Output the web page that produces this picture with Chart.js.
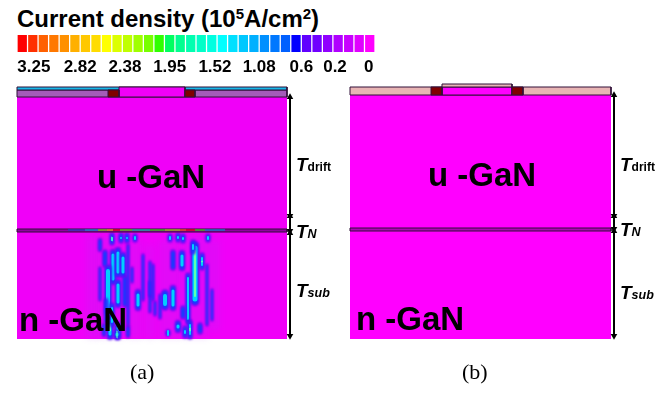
<!DOCTYPE html>
<html>
<head>
<meta charset="utf-8">
<title>Current density</title>
<script src="https://cdn.jsdelivr.net/npm/chart.js@4"></script>
<style>
  html, body { margin: 0; padding: 0; background: #fff; }
  #page { position: relative; width: 664px; height: 393px; overflow: hidden; font-family: "Liberation Sans", Arial, sans-serif; }
  #page canvas { position: absolute; }
  #boxDiagrama { position: absolute; left: 0; top: 0; width: 664px; height: 393px; filter: blur(0.35px); }
  #boxEscala { position: absolute; left: 0; top: 33px; width: 392px; height: 51px; }
  .txt { position: absolute; line-height: 1; white-space: nowrap; font-weight: bold; color: #000; }
  .titulo { font-size: 24px; left: 17px; top: 7px; }
  .titulo sup { font-size: 15px; line-height: 0; vertical-align: 8px; }
  .gan { font-size: 33px; }
  .t { font-size: 19px; font-style: italic; }
  .t span { font-size: 12px; font-style: normal; }
  .t i { font-size: 12.5px; }
  .cap { position: absolute; font-family: "Liberation Serif", serif; font-size: 22px; line-height: 1; }
</style>
</head>
<body>
<div id="page">
  <div class="txt titulo">Current density (10<sup>5</sup>A/cm<sup>2</sup>)</div>
  <div id="boxDiagrama"><canvas id="graficoDiagrama" width="664" height="393"></canvas></div>
  <div id="boxEscala"><canvas id="graficoEscala" width="392" height="51"></canvas></div>

  <div class="txt gan" style="left:97px;top:160px">u -GaN</div>
  <div class="txt gan" style="left:19px;top:303px">n -GaN</div>
  <div class="txt gan" style="left:428px;top:158px">u -GaN</div>
  <div class="txt gan" style="left:356px;top:302px">n -GaN</div>

  <div class="txt t" style="left:296px;top:155px">T<span>drift</span></div>
  <div class="txt t" style="left:296px;top:222px">T<i>N</i></div>
  <div class="txt t" style="left:296px;top:281px">T<i>sub</i></div>
  <div class="txt t" style="left:620px;top:155px">T<span>drift</span></div>
  <div class="txt t" style="left:620px;top:220px">T<i>N</i></div>
  <div class="txt t" style="left:620px;top:283px">T<i>sub</i></div>

  <div class="cap" style="left:130px;top:361px">(a)</div>
  <div class="cap" style="left:462px;top:361px">(b)</div>
</div>

<script>
// Escala de cores
const coresEscala = ['#ff0000','#ff3000','#ff6000','#ff7800','#ff9000','#ffb000','#ffc800','#ffdc00','#ffff00','#dcff00','#c0ff00','#a0ff00','#78ff00','#30ff00','#00ff60','#00ff90','#00ffb0',
                     '#00ffc8','#00ffe0','#00ffff','#00e0ff','#00c8ff','#00b0ff','#0090ff','#0078ff','#0060ff','#0000ff','#6000ff','#7000ff','#9000ff','#b000ff','#c800ff','#e000ff','#ff00ff'];
const rotulosEscala = ['3.25','2.82','2.38','1.95','1.52','1.08','0.6','0.2','0'];
const posicoesEscala = [1.6, 6, 10.25, 14.5, 18.8, 23, 27, 30.2, 33.4];

// Camadas do dispositivo [x0, x1, y0, y1]
const camadasA = {
  corpo:    [17, 287, 97, 339],
  passiva:  [17, 287, 90, 97],
  topo:     [17, 287, 87, 90],
  centro:   [119, 185, 87, 97],
  contatoE: [108, 119, 90, 97],
  contatoD: [185, 195, 90, 97],
  camadaN:  [17, 287, 229, 232]
};
const camadasB = {
  corpo:    [350, 611, 95, 339],
  passiva:  [350, 611, 87, 95],
  centro:   [442, 512, 87, 95],
  capa:     [442, 512, 84, 87],
  contatoE: [431, 442, 87, 95],
  contatoD: [512, 523, 87, 95],
  camadaN:  [350, 611, 228, 231]
};

// Filamentos de corrente abaixo da camada N (a)
const filX      = [113, 118, 123, 108, 105, 118, 125, 138, 132, 112, 110, 150, 195, 202, 188, 182, 173, 173, 165, 183, 178, 190, 200, 193, 155, 100, 121, 104, 128, 168, 208, 127, 135, 178, 170, 183, 112, 118, 106, 143, 153, 160, 100, 212, 117, 185, 150, 128, 207];
const filTopo   = [252, 250, 255, 268, 252, 282, 278, 292, 268, 235, 318, 282, 245, 255, 275, 253, 252, 288, 293, 308, 323, 322, 325, 242, 302, 240, 235, 325, 327, 332, 236, 235, 236, 235, 236, 236, 305, 325, 300, 255, 265, 295, 268, 290, 332, 328, 262, 245, 265];
const filBase   = [282, 275, 275, 312, 265, 305, 305, 308, 282, 243, 338, 312, 302, 268, 322, 268, 268, 308, 307, 317, 330, 338, 332, 252, 315, 250, 241, 335, 336, 334, 240, 241, 240, 240, 240, 241, 325, 338, 322, 300, 300, 318, 300, 320, 338, 336, 296, 325, 325];
const filLargura= [4, 4, 4, 5, 3, 4, 3, 4, 1, 3, 4, 1, 6, 3, 3, 4, 3, 4, 5, 3, 4, 3, 3, 3, 1, 2, 3, 2, 2, 3, 3, 3, 3, 3, 3, 3, 3, 4, 2, 1, 1, 1, 1, 1, 4, 3, 1, 1, 1];
const filNivel  = [2, 2, 2, 2, 1, 2, 1, 2, 1, 3, 3, 1, 3, 3, 2, 2, 1, 2, 2, 1, 2, 3, 1, 2, 1, 1, 2, 1, 1, 2, 2, 2, 2, 2, 2, 2, 2, 3, 1, 1, 1, 1, 1, 1, 3, 2, 1, 1, 1];

// Pontos quentes sobre a camada N (a)
const quenteX0  = [68, 85, 98, 107, 113, 120, 132, 150, 165, 180, 186, 195, 205];
const quenteX1  = [85, 98, 107, 113, 120, 132, 150, 165, 180, 186, 195, 205, 225];
const quenteCor = ['#2040c0', '#00a0d0', '#80e000', '#ffb000', '#ff0000', '#60e000', '#00d0a0', '#30e000', '#a0e000', '#ff6000', '#ff0000', '#30e000', '#0090d0'];

// Setas de cota: x, y0, y1
const setas = [
  [290, 97, 216], [290, 216, 231], [290, 233, 336],
  [614, 95, 216], [614, 216, 229], [614, 231, 336]
];

const corCamada = { corpo: '#f000f8', passiva: '#a45cb8', topo: '#18b8e8', centro: '#f000f8', capa: '#e8b4b4', contatoE: '#800000', contatoD: '#800000', camadaN: '#9000a0' };
const corCamadaB = { corpo: '#ff00ff', passiva: '#e8b4b4', centro: '#ff00ff', capa: '#e8b4b4', contatoE: '#800000', contatoD: '#800000', camadaN: '#b000b8' };

function retangulo(c, cor, borda) {
  return {
    data: [{x: c[0], y: c[2]}, {x: c[1], y: c[2]}, {x: c[1], y: c[3]}, {x: c[0], y: c[3]}, {x: c[0], y: c[2]}],
    borderColor: borda || cor,
    backgroundColor: cor,
    borderWidth: borda ? 1 : 0,
    fill: 'shape',
    pointRadius: 0,
    tension: 0
  };
}

function traco(x0, y0, x1, y1, cor, largura, desfoque, ponta) {
  return {
    data: [{x: x0, y: y0}, {x: x1, y: y1}],
    borderColor: cor,
    borderWidth: largura,
    borderCapStyle: ponta || 'round',
    fill: false,
    pointRadius: 0,
    tension: 0,
    desfoque: desfoque || 0
  };
}

const datasets = [];

// painel (a)
['corpo', 'passiva', 'topo', 'centro', 'contatoE', 'contatoD'].forEach(nome => {
  datasets.push(retangulo(camadasA[nome], corCamada[nome], nome === 'corpo' ? null : '#301038'));
});

// névoa violeta em volta dos filamentos
[[93, 236, 338, 14], [112, 236, 338, 26], [135, 240, 338, 14], [150, 245, 338, 10], [170, 240, 338, 22], [195, 236, 338, 26], [214, 240, 330, 12]].forEach(n => {
  datasets.push(traco(n[0], n[1], n[0], n[2], 'rgba(170, 50, 245, 0.2)', n[3], 3, 'butt'));
});

filX.forEach((x, i) => {
  const a = filTopo[i], b = filBase[i], w = filLargura[i], n = filNivel[i];
  const fim = Math.min(b, 337);
  datasets.push(traco(x, a, x, fim, 'rgba(80, 10, 250, 0.75)', w + 2.5, 1.2));
  datasets.push(traco(x, a + 1, x, fim - 1, '#1040ff', w + 0.5, 0.8));
  if (n >= 2) datasets.push(traco(x, a + 3, x, fim - 3, '#00d0ff', Math.max(w - 1, 1), 0.7));
  if (n >= 3) datasets.push(traco(x, a + 6, x, fim - 6, '#60ffb0', Math.max(w - 4, 1), 0.6));
});

datasets.push(retangulo(camadasA.camadaN, corCamada.camadaN, '#301038'));
quenteX0.forEach((x0, i) => {
  datasets.push(traco(x0, 230, quenteX1[i], 230, quenteCor[i], 1.2, 0, 'butt'));
});

// painel (b)
['corpo', 'passiva', 'centro', 'capa', 'contatoE', 'contatoD', 'camadaN'].forEach(nome => {
  datasets.push(retangulo(camadasB[nome], corCamadaB[nome], nome === 'corpo' ? null : '#301038'));
});

// setas
setas.forEach(s => {
  datasets.push({
    data: [{x: s[0], y: s[1]}, {x: s[0], y: s[2]}],
    borderColor: '#000',
    backgroundColor: '#000',
    borderWidth: 2,
    fill: false,
    pointStyle: 'triangle',
    pointRadius: 3.8,
    pointBorderWidth: 0,
    pointRotation: [0, 180],
    tension: 0
  });
});

// o Chart.js desenha o primeiro dataset por cima
datasets.reverse();

// desfoca os filamentos, como no mapa de corrente original
const pluginDesfoque = {
  id: 'desfoque',
  beforeDatasetDraw(chart, args) {
    const d = chart.data.datasets[args.index].desfoque;
    if (d) chart.ctx.filter = `blur(${d}px)`;
  },
  afterDatasetDraw(chart) {
    chart.ctx.filter = 'none';
  }
};

new Chart(document.getElementById('graficoDiagrama'), {
  type: 'line',
  data: { datasets: datasets },
  plugins: [pluginDesfoque],
  options: {
    responsive: false,
    animation: false,
    parsing: false,
    normalized: true,
    layout: { padding: 0, autoPadding: false },
    plugins: { legend: { display: false }, tooltip: { enabled: false } },
    scales: {
      x: { type: 'linear', min: 0, max: 664, display: false },
      y: { type: 'linear', min: 0, max: 393, reverse: true, display: false }
    }
  }
});

new Chart(document.getElementById('graficoEscala'), {
  type: 'bar',
  data: {
    datasets: [{
      data: coresEscala.map((c, i) => ({x: i + 0.5, y: 1})),
      backgroundColor: coresEscala,
      barThickness: 8.6
    }]
  },
  options: {
    responsive: false,
    animation: false,
    layout: { padding: { left: 17, right: 17, top: 2, bottom: 0 } },
    plugins: { legend: { display: false }, tooltip: { enabled: false } },
    scales: {
      x: {
        type: 'linear',
        min: 0,
        max: 34,
        offset: false,
        grid: { display: false, drawTicks: false },
        border: { display: false },
        afterBuildTicks: axis => { axis.ticks = posicoesEscala.map(v => ({value: v})); },
        afterFit: axis => { axis.height = 32; },
        ticks: {
          autoSkip: false,
          maxRotation: 0,
          padding: 5,
          color: '#000',
          font: { family: '"Liberation Sans"', size: 17, weight: 'bold' },
          callback: value => rotulosEscala[posicoesEscala.indexOf(value)]
        }
      },
      y: { min: 0, max: 1, display: false }
    }
  }
});
</script>
</body>
</html>
